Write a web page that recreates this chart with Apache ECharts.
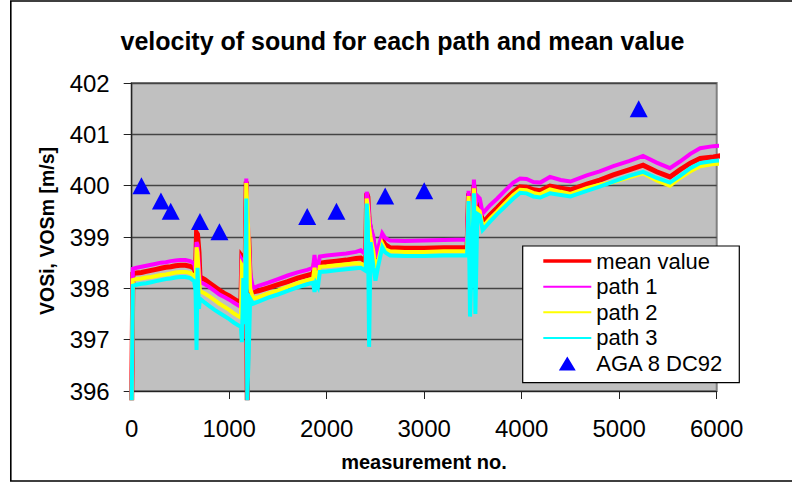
<!DOCTYPE html>
<html><head><meta charset="utf-8">
<script src="https://cdn.jsdelivr.net/npm/echarts@6/dist/echarts.min.js"></script>
<style>html,body{margin:0;padding:0;background:#fff}#c{width:792px;height:482px}</style>
</head><body><div id="c"></div>
<script>
// ---- data ----
const chartTitle = 'velocity of sound for each path and mean value';
const xTitle = 'measurement no.';
const yTitle = 'VOSi, VOSm [m/s]';
const seriesNames = ['mean value', 'path 1', 'path 2', 'path 3', 'AGA 8 DC92'];

const measNo = [0,12,50,100,150,200,250,300,350,400,450,500,550,600,640,655,665,675,690,700,750,800,850,900,950,1000,1050,1100,1120,1130,1145,1160,1175,1185,1200,1215,1245,1300,1400,1500,1600,1700,1800,1860,1875,1890,1910,1930,2000,2100,2200,2300,2350,2400,2410,2422,2435,2450,2480,2500,2530,2570,2600,2650,2800,3000,3200,3440,3455,3470,3490,3510,3525,3545,3570,3600,3675,3750,3811,3914,3983,4050,4120,4190,4290,4400,4500,4667,4800,4940,5100,5245,5384,5520,5623,5730,5830,5965,6100];
const path1 = [395.82,398.38,398.40,398.42,398.44,398.46,398.48,398.50,398.51,398.53,398.54,398.55,398.55,398.53,398.48,398.35,398.90,398.85,398.40,398.12,398.08,398.02,397.95,397.88,397.83,397.78,397.72,397.66,397.64,398.55,398.50,397.70,400.14,399.50,398.95,398.30,398.00,398.05,398.11,398.18,398.25,398.31,398.36,398.40,398.65,398.40,398.42,398.62,398.64,398.66,398.68,398.71,398.74,398.66,399.88,399.75,399.40,399.20,399.00,398.60,398.80,399.07,398.98,398.93,398.92,398.93,398.94,398.95,399.90,398.90,398.95,400.12,399.60,399.80,399.75,399.46,399.62,399.75,399.87,400.06,400.14,400.13,400.07,400.06,400.17,400.11,400.08,400.20,400.28,400.38,400.48,400.58,400.45,400.34,400.47,400.62,400.73,400.77,400.79];
const meanValue = [395.82,398.28,398.30,398.31,398.33,398.35,398.37,398.39,398.41,398.42,398.44,398.45,398.45,398.43,398.39,398.30,399.08,399.05,398.70,398.22,398.17,398.10,398.03,397.96,397.90,397.85,397.79,397.73,397.71,398.62,398.58,397.75,400.08,395.82,399.00,398.10,397.93,397.95,398.01,398.07,398.13,398.20,398.25,398.28,398.50,398.30,398.32,398.49,398.51,398.53,398.55,398.58,398.59,398.52,399.85,399.78,399.30,399.15,398.90,398.50,398.65,398.94,398.85,398.79,398.78,398.78,398.79,398.79,399.85,398.80,398.80,400.00,399.50,399.65,399.58,399.27,399.43,399.57,399.69,399.88,399.98,399.97,399.92,399.90,399.99,399.95,399.92,400.03,400.11,400.21,400.31,400.40,400.27,400.17,400.31,400.44,400.53,400.56,400.60];
const path2 = [395.82,398.16,398.18,398.19,398.21,398.22,398.24,398.26,398.27,398.29,398.31,398.32,398.32,398.30,398.24,398.05,398.80,398.70,398.20,397.95,397.90,397.84,397.77,397.70,397.64,397.58,397.51,397.45,397.43,398.45,398.40,397.50,400.05,399.60,398.90,398.00,397.80,397.83,397.90,397.96,398.03,398.10,398.16,398.19,398.40,398.20,398.22,398.42,398.43,398.45,398.47,398.49,398.48,398.44,399.75,399.60,399.20,399.00,398.70,398.35,398.55,398.87,398.76,398.72,398.71,398.71,398.72,398.72,399.80,398.50,398.70,399.95,399.30,399.55,399.50,399.20,399.36,399.50,399.62,399.82,399.92,399.91,399.86,399.83,399.93,399.88,399.84,399.95,400.02,400.07,400.16,400.24,400.10,400.00,400.15,400.28,400.38,400.42,400.44];
const path3 = [395.82,398.05,398.07,398.09,398.10,398.12,398.14,398.16,398.18,398.19,398.21,398.22,398.22,398.20,398.14,397.95,396.80,398.40,397.60,397.80,397.72,397.65,397.58,397.52,397.46,397.40,397.33,397.27,397.25,396.95,398.20,397.30,399.75,395.82,396.70,397.80,397.70,397.74,397.82,397.88,397.95,398.02,398.08,398.11,397.93,398.10,398.03,398.32,398.33,398.35,398.37,398.39,398.40,398.34,399.65,399.30,396.86,398.90,398.40,398.15,398.45,398.80,398.70,398.64,398.63,398.63,398.64,398.64,399.70,397.45,398.60,399.85,397.50,399.45,399.42,399.14,399.30,399.45,399.56,399.75,399.86,399.85,399.79,399.77,399.85,399.82,399.79,399.90,399.98,400.08,400.19,400.27,400.15,400.06,400.19,400.34,400.44,400.48,400.50];

const agaNo  = [100, 300, 400, 700, 900, 1800, 2100, 2600, 3000, 5200];
const agaVos = [400.0, 399.7, 399.5, 399.3, 399.1, 399.4, 399.5, 399.8, 399.9, 401.5];

const xMin = 0, xMax = 6000, xStep = 1000;
const yMin = 396, yMax = 402, yStep = 1;

// ---- chart ----
const FONT = '"Liberation Sans", Arial, sans-serif';
const pts = arr => measNo.map((n, i) => [n, arr[i]]);
const lineSeries = (name, arr, color, width, z) => ({
  name, type: 'line', data: pts(arr), symbol: 'none', showSymbol: false,
  clip: false, animation: false, z,
  lineStyle: { color, width, join: 'miter' }, itemStyle: { color }
});

const chart = echarts.init(document.getElementById('c'), null, { renderer: 'svg' });
chart.setOption({
  animation: false,
  backgroundColor: '#ffffff',
  grid: {
    left: 131.7, right: 792 - 716.7, top: 83, bottom: 482 - 391,
    show: true, backgroundColor: '#C0C0C0', borderColor: '#808080', borderWidth: 2
  },
  xAxis: {
    type: 'value', min: xMin, max: xMax, interval: xStep,
    axisLine: { show: true, onZero: false, lineStyle: { color: '#222', width: 1.2 } },
    axisTick: { show: true, inside: false, length: 8, lineStyle: { color: '#222', width: 1 } },
    splitLine: { show: false },
    axisLabel: { margin: 25, fontFamily: FONT, fontSize: 24, color: '#000', formatter: v => String(v) }
  },
  yAxis: {
    type: 'value', min: yMin, max: yMax, interval: yStep,
    axisLine: { show: true, onZero: false, lineStyle: { color: '#222', width: 1.2 } },
    axisTick: { show: true, inside: false, length: 8, lineStyle: { color: '#222', width: 1 } },
    splitLine: { show: true, lineStyle: { color: '#444', width: 1.3 } },
    axisLabel: { margin: 22, fontFamily: FONT, fontSize: 24, color: '#000', formatter: v => String(v) }
  },
  legend: {
    orient: 'vertical', left: 543.3, top: 248.3, padding: 0, itemGap: 0,
    itemWidth: 48, itemHeight: 14, selectedMode: false, z: 10,
    textStyle: { fontFamily: FONT, fontSize: 22, color: '#000', lineHeight: 25.6 },
    data: [
      { name: seriesNames[0], icon: 'path://M0,0 H48 V3.5 H0 Z' },
      { name: seriesNames[1], icon: 'path://M0,0 H48 V2 H0 Z' },
      { name: seriesNames[2], icon: 'path://M0,0 H48 V2 H0 Z' },
      { name: seriesNames[3], icon: 'path://M0,0 H48 V2 H0 Z' },
      { name: seriesNames[4], icon: 'path://M0,13 L7.85,0 L15.7,13 Z', itemStyle: { opacity: 1 } }
    ]
  },
  graphic: [
    { type: 'rect', z: -10, silent: true, shape: { x: 10.8, y: 1, width: 800, height: 480 },
      style: { fill: 'none', stroke: '#000', lineWidth: 1.6 } },
    { type: 'rect', z: 5, silent: true, shape: { x: 522.7, y: 246, width: 216.6, height: 136.7 },
      style: { fill: '#fff', stroke: '#000', lineWidth: 1.2 } },
    { type: 'text', z: 5, silent: true, x: 402.5, y: 40.5,
      style: { text: chartTitle, align: 'center', verticalAlign: 'middle', font: 'bold 25px ' + FONT, fill: '#000' } },
    { type: 'text', z: 5, silent: true, x: 424, y: 462,
      style: { text: xTitle, align: 'center', verticalAlign: 'middle', font: 'bold 20px ' + FONT, fill: '#000' } },
    { type: 'text', z: 5, silent: true, x: 47, y: 231, rotation: Math.PI / 2,
      style: { text: yTitle, align: 'center', verticalAlign: 'middle', font: 'bold 19.5px ' + FONT, fill: '#000' } }
  ],
  series: [
    lineSeries(seriesNames[0], meanValue, '#FF0000', 5, 2),
    lineSeries(seriesNames[1], path1, '#FF00FF', 4, 3),
    lineSeries(seriesNames[2], path2, '#FFFF00', 4, 4),
    lineSeries(seriesNames[3], path3, '#00FFFF', 4, 5),
    { name: seriesNames[4], type: 'scatter', z: 6, symbol: 'triangle', symbolSize: [18, 17],
      data: agaNo.map((n, i) => [n, agaVos[i]]), itemStyle: { color: '#0000FF', opacity: 1 }, clip: false }
  ]
});
</script></body></html>
